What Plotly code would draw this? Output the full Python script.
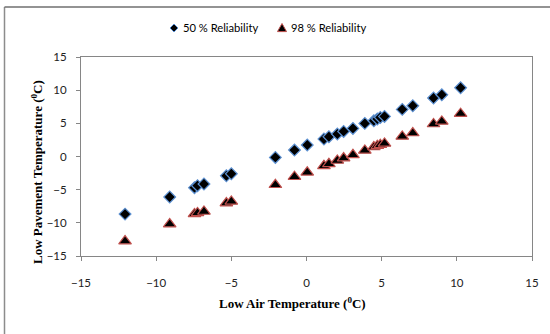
import plotly.graph_objects as go

air_temp = [-12.07, -9.1, -7.45, -7.25, -6.82, -5.33, -5.0, -2.07, -0.8, 0.05,
            1.16, 1.49, 2.05, 2.47, 3.09, 3.88, 4.48, 4.71, 4.91, 5.19,
            6.37, 7.07, 8.45, 9.0, 10.25]
pave_50 = [-8.68, -6.1, -4.7, -4.4, -4.15, -2.9, -2.6, -0.14, 0.97, 1.73,
           2.63, 2.98, 3.39, 3.78, 4.23, 4.99, 5.39, 5.65, 5.89, 6.04,
           7.1, 7.65, 8.82, 9.31, 10.37]
pave_98 = [-12.75, -10.19, -8.65, -8.5, -8.29, -7.02, -6.78, -4.26, -3.05, -2.38,
           -1.4, -1.1, -0.6, -0.23, 0.26, 0.91, 1.43, 1.62, 1.77, 1.97,
           3.02, 3.54, 4.9, 5.29, 6.45]
series_names = ["50 % Reliability", "98 % Reliability"]
tick_vals = [-15, -10, -5, 0, 5, 10, 15]

W, H = 550, 334
L, R, T, B = 81, 18, 57, 78
pw, ph = W - L - R, H - T - B

def px2paper_x(px):
    return (px - L) / pw

def px2paper_y(py):
    return (H - B - py) / ph

fig = go.Figure()
fig.add_trace(go.Scatter(
    x=air_temp, y=pave_50, mode="markers", name=series_names[0],
    marker=dict(symbol="diamond", size=9, color="black",
                line=dict(color="#5B8FD0", width=1.2)),
))
fig.add_trace(go.Scatter(
    x=air_temp, y=pave_98, mode="markers", name=series_names[1],
    marker=dict(symbol="triangle-up", size=11, color="black",
                line=dict(color="#C0504D", width=1.2)),
))

sans = "Lato, Carlito, Arial, sans-serif"
tick_font = dict(family=sans, size=11.5, color="#222")
axis_common = dict(range=[-15, 15], tickvals=tick_vals, showgrid=False, zeroline=False,
                   showline=True, linecolor="#868686", linewidth=1, mirror=True,
                   ticks="outside", ticklen=4, tickcolor="#868686", tickfont=tick_font)

fig.update_xaxes(**axis_common, ticklabelstandoff=12)
fig.update_yaxes(**axis_common, ticklabelstandoff=7)

title_font = dict(family="Liberation Serif, Times New Roman, serif", size=13, color="black")
legend_font = dict(family=sans, size=11.2, color="black")

# legend symbols (paper-space shapes) and texts
def diamond_path(cx, cy, r):
    return (f"M {px2paper_x(cx)},{px2paper_y(cy - r)} L {px2paper_x(cx + r)},{px2paper_y(cy)} "
            f"L {px2paper_x(cx)},{px2paper_y(cy + r)} L {px2paper_x(cx - r)},{px2paper_y(cy)} Z")

def triangle_path(cx, cy, r):
    return (f"M {px2paper_x(cx)},{px2paper_y(cy - r)} L {px2paper_x(cx + r)},{px2paper_y(cy + r * 0.8)} "
            f"L {px2paper_x(cx - r)},{px2paper_y(cy + r * 0.8)} Z")

fig.update_layout(
    width=W, height=H,
    margin=dict(l=L, r=R, t=T, b=B),
    paper_bgcolor="white", plot_bgcolor="white",
    showlegend=False,
    annotations=[
        dict(text="<b>Low Air Temperature (<sup>0</sup>C)</b>", xref="paper", yref="paper",
             x=px2paper_x(292), y=px2paper_y(303), xanchor="center", yanchor="middle",
             showarrow=False, font=title_font),
        dict(text="<b>Low Pavement Temperature (<sup>0</sup>C)</b>", xref="paper", yref="paper",
             x=px2paper_x(37), y=px2paper_y(172), xanchor="center", yanchor="middle",
             textangle=-90, showarrow=False, font=title_font),
        dict(text=series_names[0], xref="paper", yref="paper",
             x=px2paper_x(181), y=px2paper_y(28), xanchor="left", yanchor="middle",
             showarrow=False, font=legend_font),
        dict(text=series_names[1], xref="paper", yref="paper",
             x=px2paper_x(289), y=px2paper_y(28), xanchor="left", yanchor="middle",
             showarrow=False, font=legend_font),
    ],
    shapes=[
        dict(type="line", xref="paper", yref="paper",
             x0=px2paper_x(4.5), x1=px2paper_x(4.5), y0=px2paper_y(7), y1=px2paper_y(340),
             line=dict(color="#8c8c8c", width=1.5)),
        dict(type="line", xref="paper", yref="paper",
             x0=px2paper_x(4.5), x1=px2paper_x(560), y0=px2paper_y(7), y1=px2paper_y(7),
             line=dict(color="#6f6f6f", width=1.5)),
        dict(type="path", xref="paper", yref="paper", path=diamond_path(174, 28, 4),
             fillcolor="black", line=dict(color="#5B8FD0", width=1)),
        dict(type="path", xref="paper", yref="paper", path=triangle_path(282, 28, 4.5),
             fillcolor="black", line=dict(color="#C0504D", width=1)),
    ],
)

fig.write_html("out.html")
